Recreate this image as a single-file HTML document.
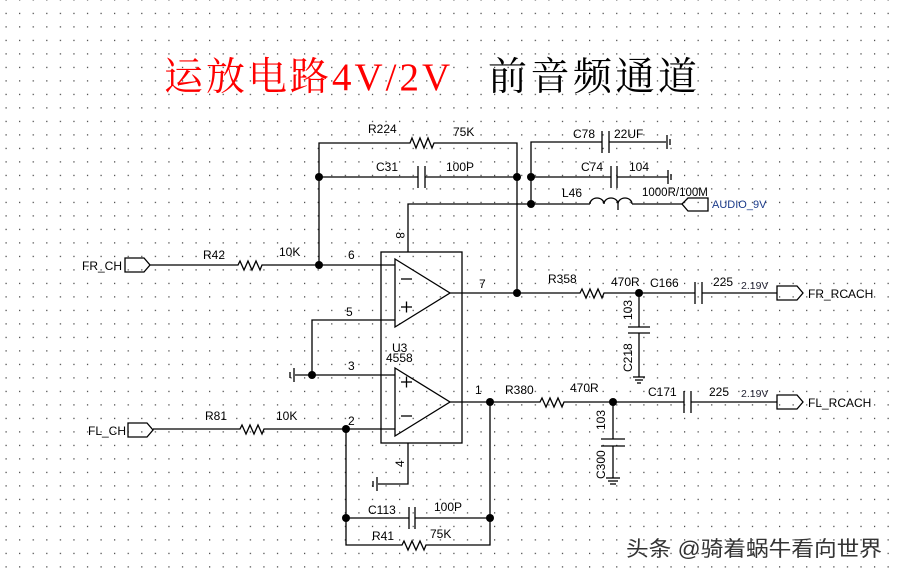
<!DOCTYPE html>
<html><head><meta charset="utf-8"><style>
body{margin:0;background:#fff}
svg{display:block}
text{font-family:"Liberation Sans",sans-serif;font-size:12px;fill:#000}
</style></head><body>
<svg width="899" height="575" viewBox="0 0 899 575" xmlns="http://www.w3.org/2000/svg">
<defs>
<pattern id="g" x="5.5" y="12.8" width="13.57" height="13.5" patternUnits="userSpaceOnUse">
<rect x="0" y="0" width="1.2" height="1.2" fill="#333"/>
</pattern>
</defs>
<rect width="899" height="575" fill="url(#g)"/>

<text x="164" y="90" style="font-family:'Liberation Serif','Noto Serif CJK SC',serif;font-size:39px;fill:#f00;letter-spacing:3px">运放电路4V/2V</text>
<text x="488" y="90" style="font-family:'Liberation Serif','Noto Serif CJK SC',serif;font-size:39px;fill:#000;letter-spacing:3.5px">前音频通道</text>

<g stroke="#000" stroke-width="1.3" fill="none">
<polyline points="319,265 319,143 410,143 412,138 416,148 420,138 424,148 428,138 432,148 434,143 517,143 517,293"/>
<line x1="319" y1="177" x2="418" y2="177"/><line x1="425" y1="177" x2="517" y2="177"/>
<line x1="418" y1="166" x2="418" y2="188"/><line x1="425" y1="166" x2="425" y2="188"/>
<polyline points="531,204 531,142 602,142"/>
<line x1="602" y1="131" x2="602" y2="153"/><line x1="609" y1="131" x2="609" y2="153"/>
<line x1="609" y1="142" x2="666" y2="142"/>
<line x1="667" y1="135" x2="667" y2="149"/><line x1="670" y1="139" x2="670" y2="145"/>
<line x1="531" y1="177" x2="611" y2="177"/>
<line x1="611" y1="166" x2="611" y2="188"/><line x1="617" y1="166" x2="617" y2="188"/>
<line x1="617" y1="177" x2="668" y2="177"/>
<line x1="668" y1="170" x2="668" y2="184"/><line x1="671" y1="174" x2="671" y2="180"/>
<polyline points="408,252 408,204 590,204"/>
<path d="M590,204 a7,6 0 0 1 14,0 a7,6 0 0 1 14,0 a7,6 0 0 1 14,0"/>
<line x1="618" y1="204" x2="618" y2="210"/>
<line x1="632" y1="204" x2="682" y2="204"/>
<polygon points="682,204 688,198 708,198 708,211 688,211"/>
<rect x="381" y="252" width="81" height="191"/>
<polygon points="395,259 395,327 450,293"/>
<polygon points="395,368 395,436 450,402"/>
<line x1="401" y1="279" x2="412" y2="279"/>
<line x1="401" y1="307" x2="412" y2="307"/><line x1="406.5" y1="301.5" x2="406.5" y2="312.5"/>
<line x1="401" y1="382" x2="412" y2="382"/><line x1="406.5" y1="376.5" x2="406.5" y2="387.5"/>
<line x1="401" y1="416" x2="412" y2="416"/>
<polygon points="125,258 144,258 150,265 144,272 125,272"/>
<polyline points="150,265 238,265 240,261 244,270 248,261 252,270 256,261 260,270 262,265 395,265"/>
<polyline points="395,320 312,320 312,375"/>
<line x1="295" y1="375" x2="395" y2="375"/>
<line x1="294" y1="368" x2="294" y2="382"/><line x1="290" y1="372" x2="290" y2="378"/>
<polygon points="128,423 147,423 153,430 147,437 128,437"/>
<polyline points="153,429 240,429 242,425 246,434 250,425 254,434 258,425 262,434 264,429 395,429"/>
<polyline points="408,443 408,484 378,484"/>
<line x1="377" y1="477" x2="377" y2="491"/><line x1="373" y1="481" x2="373" y2="487"/>
<polyline points="450,293 580,293 582,289 586,298 590,289 594,298 598,289 602,298 604,293 695,293"/>
<line x1="695" y1="282" x2="695" y2="304"/><line x1="702" y1="282" x2="702" y2="304"/>
<line x1="702" y1="293" x2="777" y2="293"/>
<polygon points="777,286 797,286 803,293 797,300 777,300"/>
<polyline points="639,293 639,327"/>
<line x1="628" y1="327" x2="650" y2="327"/><line x1="628" y1="333" x2="650" y2="333"/>
<line x1="639" y1="333" x2="639" y2="377"/>
<line x1="633" y1="377" x2="645" y2="377"/><line x1="635" y1="380" x2="643" y2="380"/><line x1="637" y1="383" x2="641" y2="383"/>
<polyline points="450,402 540,402 542,398 546,407 550,398 554,407 558,398 562,407 564,402 684,402"/>
<line x1="684" y1="391" x2="684" y2="413"/><line x1="691" y1="391" x2="691" y2="413"/>
<line x1="691" y1="402" x2="777" y2="402"/>
<polygon points="777,395 797,395 803,402 797,409 777,409"/>
<line x1="613" y1="402" x2="613" y2="439"/>
<line x1="601" y1="439" x2="625" y2="439"/><line x1="601" y1="446" x2="625" y2="446"/>
<line x1="613" y1="446" x2="613" y2="478"/>
<line x1="606" y1="478" x2="620" y2="478"/><line x1="608" y1="481" x2="618" y2="481"/><line x1="610" y1="484" x2="616" y2="484"/>
<polyline points="346,429 346,545 402,545 404,541 408,550 412,541 416,550 420,541 424,550 426,545 490,545 490,402"/>
<line x1="346" y1="518" x2="409" y2="518"/><line x1="415" y1="518" x2="490" y2="518"/>
<line x1="409" y1="507" x2="409" y2="529"/><line x1="415" y1="507" x2="415" y2="529"/>
</g>
<g fill="#000">
<circle cx="319" cy="177" r="4"/><circle cx="517" cy="177" r="4"/><circle cx="531" cy="177" r="4"/>
<circle cx="531" cy="204" r="4"/><circle cx="319" cy="265" r="4"/><circle cx="517" cy="293" r="4"/>
<circle cx="639" cy="293" r="4"/><circle cx="312" cy="375" r="4"/><circle cx="346" cy="429" r="4"/>
<circle cx="490" cy="402" r="4"/><circle cx="613" cy="402" r="4"/><circle cx="346" cy="518" r="4"/><circle cx="490" cy="518" r="4"/>
</g>

<text x="368" y="133">R224</text><text x="453" y="136">75K</text>
<text x="376" y="171">C31</text><text x="446" y="171">100P</text>
<text x="573" y="138">C78</text><text x="614" y="138">22UF</text>
<text x="581" y="171">C74</text><text x="629" y="171">104</text>
<text x="562" y="197">L46</text><text x="642" y="196" style="font-size:11.5px">1000R/100M</text>
<text x="712" y="208" style="font-size:11px;fill:#1a3a8a">AUDIO_9V</text>
<text x="203" y="259">R42</text><text x="279" y="256">10K</text>
<text x="82" y="270">FR_CH</text><text x="88" y="435">FL_CH</text>
<text x="348" y="259">6</text><text x="346" y="316">5</text><text x="348" y="370">3</text><text x="348" y="425">2</text>
<text x="395" y="241" transform="rotate(90 400 237)">8</text>
<text x="395" y="466" transform="rotate(-90 400 462)">4</text>
<text x="479" y="288">7</text><text x="475" y="394">1</text>
<text x="392" y="352">U3</text><text x="386" y="362">4558</text>
<text x="548" y="283">R358</text><text x="611" y="286">470R</text><text x="650" y="287">C166</text>
<text x="713" y="286">225</text><text x="741" y="289" style="font-size:10.5px;fill:#223">2.19V</text>
<text x="808" y="298">FR_RCACH</text>
<text x="205" y="420">R81</text><text x="276" y="420">10K</text>
<text x="505" y="394">R380</text><text x="570" y="392">470R</text><text x="648" y="396">C171</text>
<text x="709" y="396">225</text><text x="741" y="397" style="font-size:10.5px;fill:#223">2.19V</text>
<text x="808" y="407">FL_RCACH</text>
<text x="0" y="0" transform="translate(632,320) rotate(-90)">103</text>
<text x="0" y="0" transform="translate(632,372) rotate(-90)">C218</text>
<text x="0" y="0" transform="translate(605,430) rotate(-90)">103</text>
<text x="0" y="0" transform="translate(605,479) rotate(-90)">C300</text>
<text x="368" y="514">C113</text><text x="434" y="511">100P</text>
<text x="372" y="540">R41</text><text x="430" y="538">75K</text>
<text x="626" y="556" textLength="256" lengthAdjust="spacingAndGlyphs" style="font-family:'Liberation Sans','Noto Sans CJK SC',sans-serif;font-size:21px;fill:#333">头条 @骑着蜗牛看向世界</text>
</svg>
</body></html>
